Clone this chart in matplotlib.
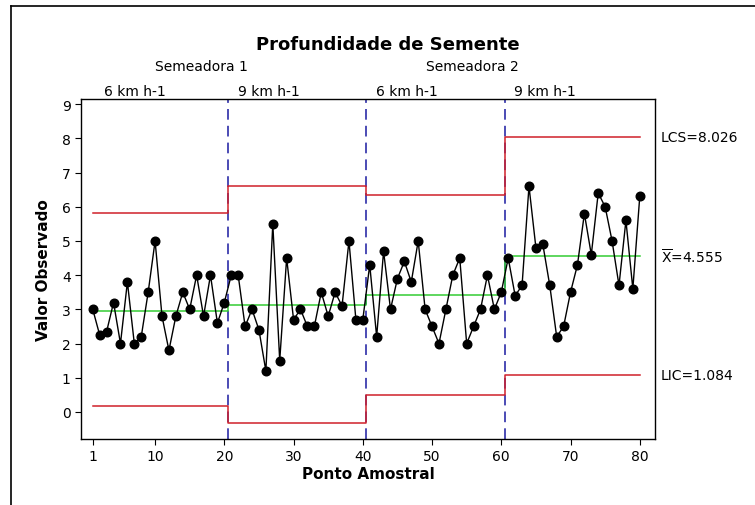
import matplotlib
matplotlib.use("Agg")
import matplotlib.pyplot as plt
from matplotlib.lines import Line2D
import numpy as np

# ---- data ----
valores = [3.0, 2.25, 2.35, 3.2, 2.0, 3.8, 2.0, 2.2, 3.5, 5.0,
           2.8, 1.8, 2.8, 3.5, 3.0, 4.0, 2.8, 4.0, 2.6, 3.2,
           4.0, 4.0, 2.5, 3.0, 2.4, 1.2, 5.5, 1.5, 4.5, 2.7,
           3.0, 2.5, 2.5, 3.5, 2.8, 3.5, 3.1, 5.0, 2.7, 2.7,
           4.3, 2.2, 4.7, 3.0, 3.9, 4.4, 3.8, 5.0, 3.0, 2.5,
           2.0, 3.0, 4.0, 4.5, 2.0, 2.5, 3.0, 4.0, 3.0, 3.5,
           4.5, 3.4, 3.7, 6.6, 4.8, 4.9, 3.7, 2.2, 2.5, 3.5,
           4.3, 5.8, 4.6, 6.4, 6.0, 5.0, 3.7, 5.6, 3.6, 6.3]
estagio_inicio = [1, 20.5, 40.5, 60.5]
estagio_fim = [20.5, 40.5, 60.5, 80]
media = [2.95, 3.13, 3.42, 4.555]
lcs = [5.82, 6.60, 6.35, 8.026]
lic = [0.17, -0.32, 0.49, 1.084]
velocidades = ["6 km h-1", "9 km h-1", "6 km h-1", "9 km h-1"]
vel_pos = [7.1, 26.4, 46.4, 66.3]
semeadoras = ["Semeadora 1", "Semeadora 2"]
sem_pos = [16.7, 55.8]
xticks = [1, 10, 20, 30, 40, 50, 60, 70, 80]
yticks = list(range(0, 10))

plt.rcParams['font.family'] = ['DejaVu Sans']
plt.rcParams['mathtext.default'] = 'regular'

fig = plt.figure(figsize=(7.55, 5.06), dpi=100)
ax = fig.add_axes([81/755, 1-440/506, (655-81)/755, (440-100)/506])

x = np.arange(1, len(valores) + 1)

def step(vals):
    xs, ys = [], []
    for s, e, v in zip(estagio_inicio, estagio_fim, vals):
        xs += [s, e]
        ys += [v, v]
    return xs, ys

for vals, col in [(lcs, '#d0202a'), (lic, '#d0202a'), (media, '#33cc33')]:
    xs, ys = step(vals)
    ax.plot(xs, ys, color=col, lw=1.1, zorder=2)

for b in estagio_inicio[1:]:
    ax.axvline(b, color='#1a1aa0', lw=1.1, ls=(0, (7, 4)), zorder=1)

ax.plot(x, valores, color='black', lw=1.0, marker='o', ms=6.2, zorder=3)

ax.set_xlim(-0.7, 82.2)
ax.set_ylim(-0.79, 9.15)
ax.set_xticks(xticks)
ax.set_yticks(yticks)
ax.tick_params(direction='out', length=4, labelsize=10)
for s in ax.spines.values():
    s.set_linewidth(1.0)

ax.set_xlabel("Ponto Amostral", fontsize=11, fontweight='bold', labelpad=2)
ax.set_ylabel("Valor Observado", fontsize=11, fontweight='bold', labelpad=8)
fig.text(388/755, 1-45/506, "Profundidade de Semente", ha='center', va='center',
         fontsize=13, fontweight='bold')

for t, p in zip(velocidades, vel_pos):
    ax.text(p, 1.003, t, transform=ax.get_xaxis_transform(), ha='center', va='bottom',
            fontsize=10)
for t, p in zip(semeadoras, sem_pos):
    ax.text(p, 1.076, t, transform=ax.get_xaxis_transform(), ha='center', va='bottom',
            fontsize=10)

ax.text(1.01, lcs[-1], "LCS=%.3f" % lcs[-1], transform=ax.get_yaxis_transform(),
        ha='left', va='center', fontsize=10)
ax.text(1.01, media[-1], r"$\overline{X}$=%.3f" % media[-1], transform=ax.get_yaxis_transform(),
        ha='left', va='center', fontsize=10)
ax.text(1.01, lic[-1], "LIC=%.3f" % lic[-1], transform=ax.get_yaxis_transform(),
        ha='left', va='center', fontsize=10)

fig.add_artist(Line2D([11/755, 11/755], [0, 1-7/506], transform=fig.transFigure,
                      color='black', lw=1.2))
fig.add_artist(Line2D([11/755, 1], [1-7/506, 1-7/506], transform=fig.transFigure,
                      color='black', lw=1.2))

fig.savefig("out.png", dpi=100)
